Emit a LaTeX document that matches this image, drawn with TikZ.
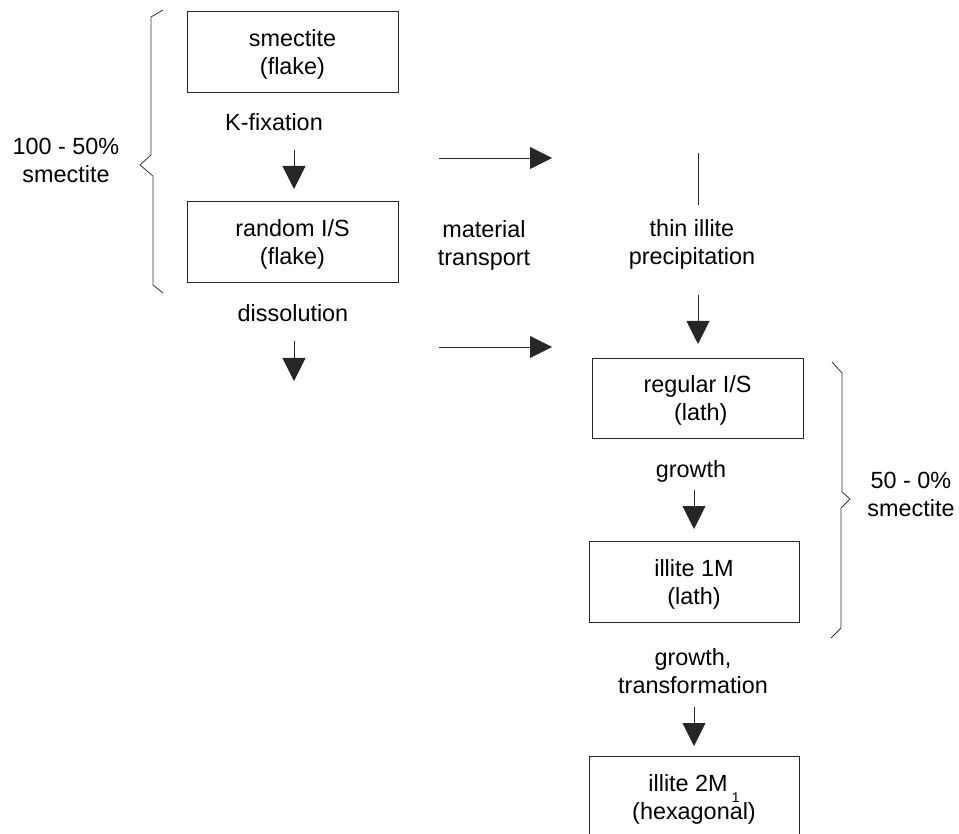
\documentclass[tikz,border=0pt]{standalone}
\usepackage{fontspec}
\setmainfont{Liberation Sans}
\usetikzlibrary{arrows.meta}
\newcommand{\mytwo}[2]{\begin{tabular}{@{}c@{}}\rule{0pt}{25.6pt}#1\\#2\end{tabular}}
\newcommand{\mytwot}[2]{\begin{tabular}[t]{@{}c@{}}#1\\#2\end{tabular}}
\tikzset{
  every node/.style={font=\fontsize{23.4}{28}\selectfont, text=black},
  stagebox/.style={draw=black!85, line width=0.9pt, minimum width=#1, minimum height=81pt, inner sep=0pt},
  stagebox/.default=211pt,
  lbl/.style={anchor=base, inner sep=0pt},
  flow/.style={draw=black!85, line width=0.9pt, -{Triangle[length=23pt,width=23pt]}},
  hflow/.style={draw=black!85, line width=0.9pt, -{Triangle[length=22pt,width=22pt]}},
  bracel/.style={draw=black!80, line width=0.8pt, line join=miter}
}
\begin{document}
\begin{tikzpicture}[x=1pt,y=-1pt]
\clip (0,0) rectangle (959,834);
\useasboundingbox (0,0) rectangle (959,834);

% boxes
\node[stagebox] (smec) at (292.5,51.5) {\mytwo{smectite}{(flake)}};
\node[stagebox] (rand) at (292.5,241.5) {\mytwo{random I/S}{(flake)}};
\node[stagebox, minimum height=80pt] (reg) at (697.5,398) {\mytwo{regular I/S}{\ (lath)}};
\node[stagebox=210pt] (ill1) at (694,581.5) {\mytwo{illite 1M}{(lath)}};
\node[stagebox=210pt] (ill2) at (694,796.5) {\mytwo{illite 2M\hspace{4pt}\smash{\raisebox{-11pt}{\fontsize{14}{14}\selectfont 1}}}{(hexagonal)}};

% labels
\node[lbl] (kfix) at (274,131) {K-fixation};
\node[lbl] (diss) at (293,322) {dissolution};
\node[lbl] (mat) at (484,238) {\mytwot{material}{transport}};
\node[lbl] (thin) at (692,237) {\mytwot{thin illite}{precipitation}};
\node[lbl] (grow) at (691,477) {growth};
\node[lbl] (gtr) at (693,665) {\mytwot{growth,}{transformation}};
\node[lbl] (lpct) at (66,155) {\mytwot{100 - 50\%}{smectite}};
\node[lbl] (rpct) at (911,488) {\mytwot{50 - 0\%}{smectite}};

% connector end points
\coordinate (a1s) at (294,150); \coordinate (a1e) at (294,189);
\coordinate (a2s) at (294,341); \coordinate (a2e) at (294,381);
\coordinate (h1s) at (439,158); \coordinate (h1e) at (552,158);
\coordinate (h2s) at (439,347); \coordinate (h2e) at (552,347);
\coordinate (t0s) at (698,153); \coordinate (t0e) at (698,205);
\coordinate (a3s) at (698,295); \coordinate (a3e) at (698,344);
\coordinate (a4s) at (694,490); \coordinate (a4e) at (694,529);
\coordinate (a5s) at (694,707); \coordinate (a5e) at (694,746);

\draw[flow] (a1s) -- (a1e);
\draw[flow] (a2s) -- (a2e);
\draw[hflow] (h1s) -- (h1e);
\draw[hflow] (h2s) -- (h2e);
\draw[draw=black!85, line width=0.9pt] (t0s) -- (t0e);
\draw[flow] (a3s) -- (a3e);
\draw[flow] (a4s) -- (a4e);
\draw[flow] (a5s) -- (a5e);

% braces
\draw[bracel] (163,10) -- (151,17) -- (151,155) -- (140,165) -- (153,176) -- (153,285) -- (163,293);
\draw[bracel] (832,362) -- (842,373) -- (842,492) -- (850,499) -- (841,508) -- (841,628) -- (831,638);
\end{tikzpicture}
\end{document}
